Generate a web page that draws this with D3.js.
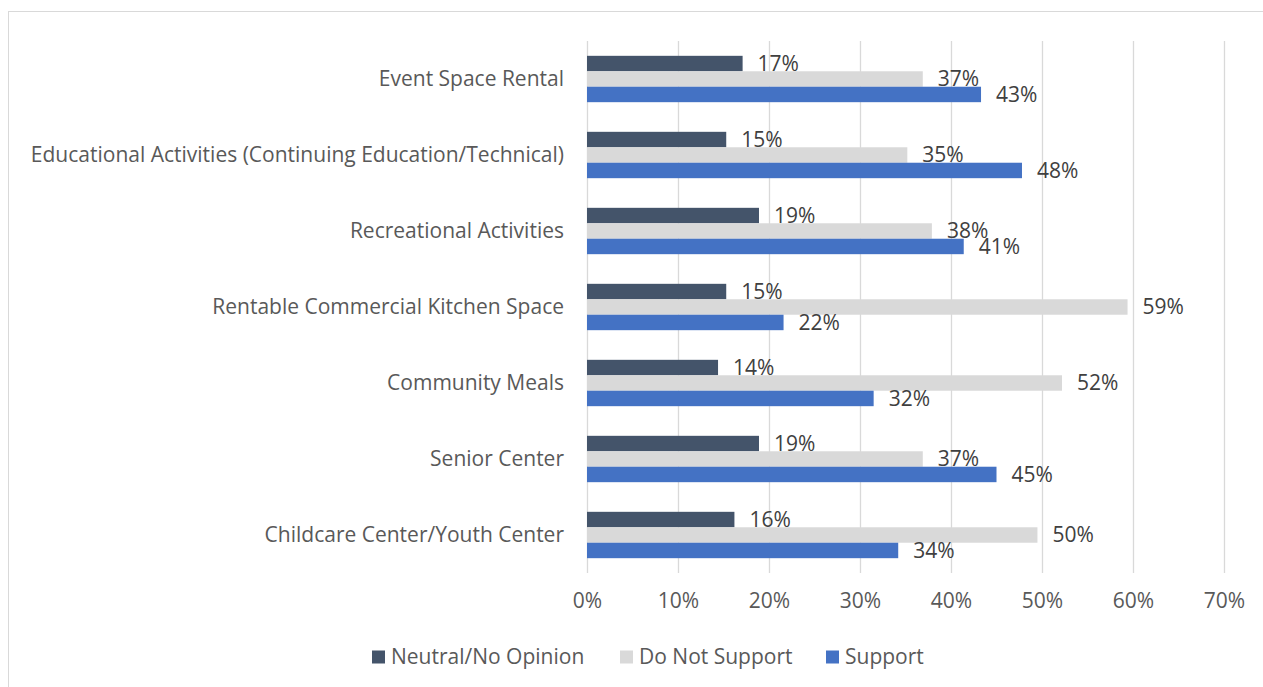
<!DOCTYPE html>
<html>
<head>
<meta charset="utf-8">
<script src="https://cdn.jsdelivr.net/npm/d3@7"></script>
<style>
  body { margin: 0; background: #fff; }
  svg { display: block; font-family: "Open Sans", sans-serif; }
</style>
</head>
<body>
<svg></svg>
<script>
const categories = [
  'Event Space Rental',
  'Educational Activities (Continuing Education/Technical)',
  'Recreational Activities',
  'Rentable Commercial Kitchen Space',
  'Community Meals',
  'Senior Center',
  'Childcare Center/Youth Center'
];
const seriesNames = ['Neutral/No Opinion', 'Do Not Support', 'Support'];
const neutral = [17.1, 15.3, 18.9, 15.3, 14.4, 18.9, 16.2];
const doNotSupport = [36.9, 35.2, 37.9, 59.4, 52.2, 36.9, 49.5];
const support = [43.3, 47.8, 41.4, 21.6, 31.5, 45.0, 34.2];
const xTicks = [0, 10, 20, 30, 40, 50, 60, 70];

const colors = ['#44546A', '#D9D9D9', '#4472C4'];
const seriesValues = [neutral, doNotSupport, support];

const width = 1263;
const height = 687;
const fontSize = '21px';

const svg = d3.select('svg')
  .attr('width', width)
  .attr('height', height);

// chart border
svg.append('rect')
  .attr('x', 8.5)
  .attr('y', 11.5)
  .attr('width', 1262)
  .attr('height', 690)
  .attr('fill', 'none')
  .attr('stroke', '#D9D9D9');

const x = d3.scaleLinear().domain([0, 70]).range([587, 1224]);
const y = d3.scaleBand().domain(categories).range([41, 573]).paddingInner(0.39).paddingOuter(0.195);
const ySub = d3.scaleBand().domain(seriesNames).range([0, y.bandwidth()]);

// gridlines
svg.append('g')
  .selectAll('line')
  .data(xTicks)
  .enter().append('line')
    .attr('x1', d => x(d) + 0.5)
    .attr('x2', d => x(d) + 0.5)
    .attr('y1', 41)
    .attr('y2', 573)
    .attr('stroke', '#D9D9D9')
    .attr('stroke-width', 1.3);

// x axis labels
const xAxis = svg.append('g')
  .attr('transform', 'translate(0,573)')
  .call(d3.axisBottom(x).tickValues(xTicks).tickFormat(d => d + '%').tickSize(0).tickPadding(20));
xAxis.select('.domain').remove();
xAxis.selectAll('text')
  .attr('fill', '#595959')
  .style('font-size', fontSize)
  .style('font-family', '"Open Sans", sans-serif');

// y axis labels
const yAxis = svg.append('g')
  .attr('transform', 'translate(587,0)')
  .call(d3.axisLeft(y).tickSize(0).tickPadding(23));
yAxis.select('.domain').remove();
yAxis.selectAll('text')
  .attr('fill', '#595959')
  .style('font-size', fontSize)
  .style('font-family', '"Open Sans", sans-serif');

// bars
const groups = svg.append('g')
  .selectAll('g')
  .data(categories)
  .enter().append('g')
    .attr('transform', c => 'translate(0,' + y(c) + ')');

groups.each(function(c, i) {
  const g = d3.select(this);
  seriesNames.forEach((s, j) => {
    const v = seriesValues[j][i];
    g.append('rect')
      .attr('x', x(0))
      .attr('y', ySub(s))
      .attr('width', x(v) - x(0))
      .attr('height', ySub.bandwidth())
      .attr('fill', colors[j]);
  });
});

// data labels, drawn after bars so they sit on top
groups.each(function(c, i) {
  const g = d3.select(this);
  seriesNames.forEach((s, j) => {
    const v = seriesValues[j][i];
    g.append('text')
      .attr('x', x(v) + 15)
      .attr('y', ySub(s) + ySub.bandwidth() / 2)
      .attr('dy', '0.35em')
      .attr('fill', '#404040')
      .style('font-size', fontSize)
      .text(Math.round(v) + '%');
  });
});

// legend
const legendX = [372, 620, 826];
const legend = svg.append('g')
  .selectAll('g')
  .data(seriesNames)
  .enter().append('g')
    .attr('transform', (d, i) => 'translate(' + legendX[i] + ',657)');

legend.append('rect')
  .attr('x', 0)
  .attr('y', -6.5)
  .attr('width', 13)
  .attr('height', 13)
  .attr('fill', (d, i) => colors[i]);

legend.append('text')
  .attr('x', 19)
  .attr('dy', '0.35em')
  .attr('fill', '#595959')
  .style('font-size', fontSize)
  .text(d => d);
</script>
</body>
</html>
